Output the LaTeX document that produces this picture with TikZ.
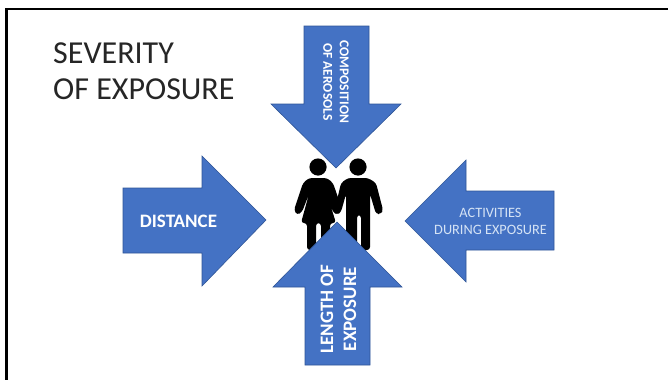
\documentclass[tikz,border=0pt]{standalone}
\usepackage{fontspec}
\setmainfont{Carlito}
\definecolor{arrowblue}{HTML}{4472C4}
\definecolor{arrowedge}{HTML}{2F5597}
\definecolor{titleink}{HTML}{262626}
\definecolor{paletext}{HTML}{D5E3F5}
\tikzset{
  bigarrow/.style={fill=arrowblue,draw=arrowedge,line width=0.6pt,line join=miter},
  figure/.style={fill=black,draw=none},
  arrowtext/.style={text=white,align=center,inner sep=0pt,font=\bfseries}
}
\begin{document}
\begin{tikzpicture}[x=1pt,y=-1pt]
\useasboundingbox (0,0) rectangle (668,380);
\fill[white] (0,0) rectangle (668,380);
% slide frame
\fill[black] (5,7.5) rectangle (668,10);
\fill[black] (5,7.5) rectangle (7.5,380);
% title
\node[anchor=north west,inner sep=0pt,align=left,text=titleink,font=\fontsize{32}{36}\selectfont] (title) at (53,42.5) {SEVERITY\\OF EXPOSURE};
% people: heads
\fill[figure] (318,167) circle (8.6);
\fill[figure] (358,167) circle (8.6);
% woman
\fill[figure,rounded corners=3pt] (309,178) -- (327,178) -- (333,183) -- (342,209) -- (337,215) -- (333,212) -- (327,194) -- (336,223) -- (330,223) -- (330,250) -- (321,250) -- (321,223) -- (316,223) -- (316,250) -- (307,250) -- (307,223) -- (301,223) -- (309,194) -- (302,212) -- (297,215) -- (294,210) -- (303,183) -- cycle;
% man
\fill[figure,rounded corners=3pt] (348,178) -- (368,178) -- (376,183) -- (383,210) -- (381,214) -- (376,214) -- (370,194) -- (370,250) -- (361,250) -- (361,215) -- (357,215) -- (357,250) -- (346,250) -- (346,194) -- (341,212) -- (337,215) -- (335,209) -- (341,183) -- cycle;
% arrows
\path[bigarrow] (304,26) -- (369,26) -- (369,104) -- (401,104) -- (336,168) -- (271,104) -- (304,104) -- cycle;
\path[bigarrow] (305,365) -- (370,365) -- (370,287) -- (402,287) -- (337,222) -- (273,287) -- (305,287) -- cycle;
\path[bigarrow] (123,188) -- (202,188) -- (202,156) -- (266,220) -- (202,286) -- (202,253) -- (123,253) -- cycle;
\path[bigarrow] (554,191) -- (466,191) -- (466,160) -- (405,221) -- (466,282) -- (466,250) -- (554,250) -- cycle;
% labels
\node[arrowtext,rotate=-90,font=\bfseries\fontsize{13.5}{16.5}\selectfont] (comp) at (336,82) {COMPOSITION\\OF AEROSOLS};
\node[arrowtext,rotate=90,font=\bfseries\fontsize{19}{23}\selectfont] (length) at (338.5,309) {LENGTH OF\\EXPOSURE};
\node[arrowtext,font=\bfseries\fontsize{19}{23}\selectfont] (dist) at (178.5,221) {DISTANCE};
\node[text=paletext,align=center,inner sep=0pt,font=\fontsize{14.3}{16.5}\selectfont] (act) at (490.5,221.5) {ACTIVITIES\\DURING EXPOSURE};
\end{tikzpicture}
\end{document}
